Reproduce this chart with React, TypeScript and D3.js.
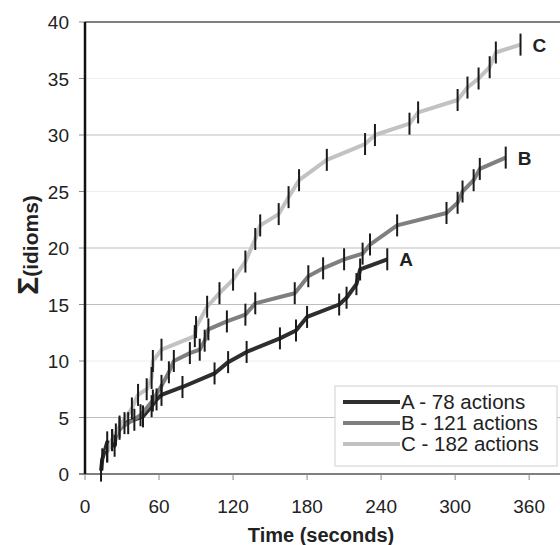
import React from 'react';
import * as d3 from 'd3';

// cumulative idioms over time as [seconds, idioms]
const seriesA: [number, number][] = [
  [13, 0.3], [14, 1.3], [18, 2.8], [24, 2.5], [25, 3.5], [32, 4.5], [40, 4.8], [47, 5.1],
  [54, 6], [58, 6.6], [62, 7], [79, 7.7], [105, 8.9], [116, 9.9], [131, 10.8], [158, 12],
  [171, 12.7], [180, 13.9], [206, 15], [212, 15.6], [220, 16.8], [223, 18.1], [245, 19],
];
const seriesB: [number, number][] = [
  [18, 2], [22, 3], [28, 4], [35, 4.5], [45, 5.2], [55, 6.5], [62, 7.8], [68, 9], [72, 10],
  [85, 10.7], [93, 11], [97, 11.8], [100, 12.8], [115, 13.5], [130, 14.1], [138, 15.1],
  [170, 16], [181, 17.5], [193, 18.2], [210, 19], [225, 19.5], [231, 20.3], [253, 22],
  [293, 23.1], [302, 24], [306, 25], [315, 26], [320, 27], [341, 28],
];
const seriesC: [number, number][] = [
  [18, 2], [22, 3], [28, 4.2], [38, 5.8], [43, 7], [50, 7.5], [54, 8.5], [55, 10], [62, 11],
  [89, 12.2], [90, 13], [99, 14.8], [109, 16], [120, 17.2], [130, 18.8], [138, 20.8],
  [142, 22], [157, 23], [165, 24.5], [173.5, 26], [196, 27.8], [227, 29.2], [235, 30],
  [263, 31], [270, 32], [302, 33.1], [310, 34.2], [319, 35], [328, 36], [333, 37.3], [353, 38],
];
const seriesNames = ['A', 'B', 'C'];
const legendLabels = ['A - 78 actions', 'B - 121 actions', 'C - 182 actions'];
const xTicks = [0, 60, 120, 180, 240, 300, 360];
const yTicks = [0, 5, 10, 15, 20, 25, 30, 35, 40];
const strongGrid = [5, 15, 20, 30];
const faintGrid = [10, 25, 35];

const colors = ['#2e2e2e', '#7f7f7f', '#c2c2c2'];

export default function App() {
  const width = 560;
  const height = 545;
  const margin = { top: 22, right: 0, bottom: 71, left: 85 };

  const x = d3.scaleLinear().domain([0, 385]).range([margin.left, 560]);
  const y = d3.scaleLinear().domain([0, 40]).range([height - margin.bottom, margin.top]);

  const line = d3.line<[number, number]>().x(d => x(d[0])).y(d => y(d[1]));
  const all = [seriesA, seriesB, seriesC];
  const font = '"Liberation Sans", Arial, sans-serif';

  return (
    <svg width={width} height={height} style={{ position: 'absolute', left: 0, top: 0 }} fontFamily={font}>
      <rect width={width} height={height} fill="#fff" />
      {strongGrid.map(v => (
        <line key={'g' + v} x1={x(0)} x2={width} y1={y(v)} y2={y(v)} stroke="#bdbdbd" strokeWidth={1.2} />
      ))}
      {faintGrid.map(v => (
        <line key={'f' + v} x1={x(0)} x2={width} y1={y(v)} y2={y(v)} stroke="#eeeeee" strokeWidth={1} />
      ))}
      {/* top border */}
      <line x1={x(0)} x2={width} y1={y(40)} y2={y(40)} stroke="#555" strokeWidth={1.5} />
      {/* bottom axis */}
      <line x1={x(0) - 6} x2={width} y1={y(0)} y2={y(0)} stroke="#555" strokeWidth={1.5} />
      {xTicks.map(t => (
        <g key={'x' + t}>
          <line x1={x(t)} x2={x(t)} y1={y(0)} y2={y(0) + 6} stroke="#888" />
          <text x={x(t)} y={y(0) + 39} fontSize={19} textAnchor="middle" fill="#222">{t}</text>
        </g>
      ))}
      {yTicks.map(v => (
        <g key={'y' + v}>
          <line x1={x(0) - 6} x2={x(0)} y1={y(v)} y2={y(v)} stroke="#888" />
          <text x={69} y={y(v) + 7} fontSize={19} textAnchor="end" fill="#222">{v}</text>
        </g>
      ))}
      {/* series lines */}
      {all.map((s, i) => (
        <path key={'l' + i} d={line(s) || ''} fill="none" stroke={colors[i]} strokeWidth={4} strokeLinejoin="round" />
      ))}
      {/* vertical markers */}
      {all.map((s, i) => (
        <g key={'m' + i}>
          {s.map((d, j) => (
            <line key={j} x1={x(d[0])} x2={x(d[0])} y1={y(d[1]) - 11} y2={y(d[1]) + 11} stroke="#1a1a1a" strokeWidth={2} />
          ))}
        </g>
      ))}
      {/* end labels */}
      {all.map((s, i) => {
        const last = s[s.length - 1];
        return (
          <text key={'e' + i} x={x(last[0]) + 12} y={y(last[1]) + 7} fontSize={19} fontWeight="bold" fill="#222">
            {seriesNames[i]}
          </text>
        );
      })}
      {/* left axis */}
      <line x1={x(0)} x2={x(0)} y1={y(40)} y2={y(0)} stroke="#111" strokeWidth={2.5} />
      {/* legend */}
      <rect x={335} y={386} width={222} height={80} fill="#fff" stroke="#cfcfcf" />
      {legendLabels.map((lab, i) => (
        <g key={'lg' + i}>
          <line x1={343} x2={400} y1={402 + i * 21} y2={402 + i * 21} stroke={colors[i]} strokeWidth={4} />
          <text x={401} y={409 + i * 21} fontSize={20.5} fill="#222">{lab}</text>
        </g>
      ))}
      {/* axis titles */}
      <text x={321} y={542} fontSize={20} fontWeight="bold" textAnchor="middle" fill="#222">Time (seconds)</text>
      <text transform="translate(38,245) rotate(-90)" textAnchor="middle" fontWeight="bold" fill="#222">
        <tspan fontSize={30}>Σ</tspan>
        <tspan fontSize={21}>(idioms)</tspan>
      </text>
    </svg>
  );
}
